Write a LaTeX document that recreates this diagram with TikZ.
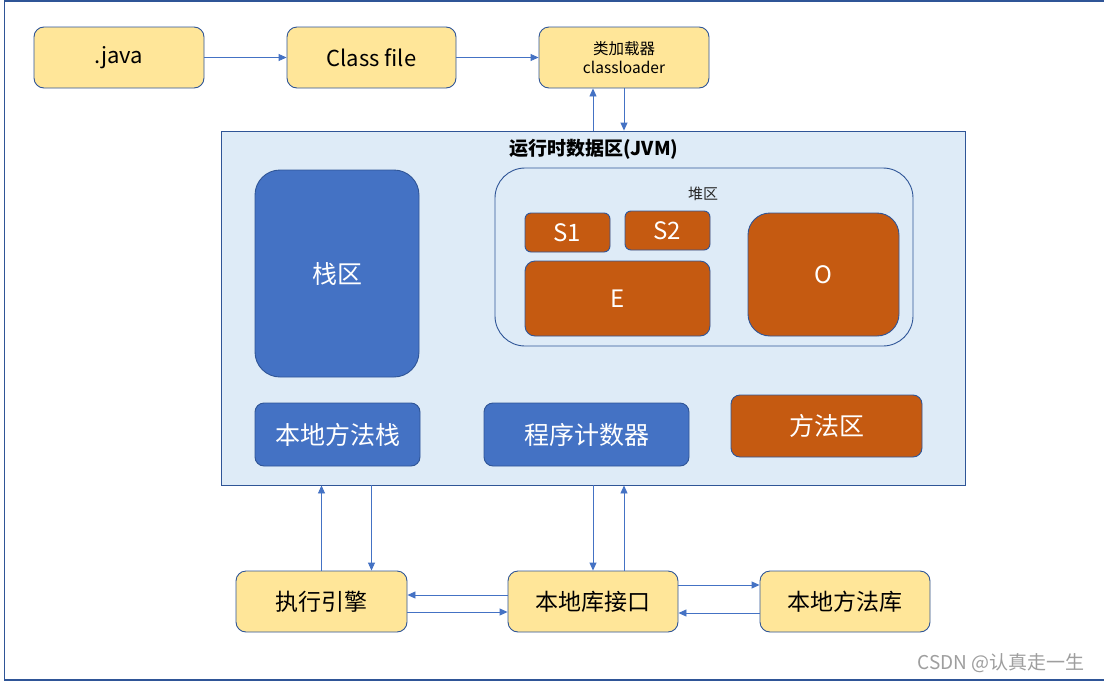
\documentclass[tikz,border=0pt]{standalone}
\usepackage{fontspec}
\setmainfont{Noto Sans CJK SC}
\usetikzlibrary{arrows.meta,positioning}
\definecolor{yel}{HTML}{FFE699}
\definecolor{edge}{HTML}{2F5597}
\definecolor{blu}{HTML}{4472C4}
\definecolor{ora}{HTML}{C55A11}
\definecolor{jvmbg}{HTML}{DEEBF7}
\definecolor{arrc}{HTML}{4472C4}
\newcommand{\fs}[1]{\fontsize{#1}{#1}\selectfont}
\tikzset{
  box/.style={draw=edge, line width=0.9pt, inner sep=0pt, align=center},
  ybox/.style={box, fill=yel, rounded corners=10pt, text=black, minimum width=170pt, minimum height=61pt, font=\fs{22}},
  bbox/.style={box, fill=blu, text=white, font=\fs{25}},
  obox/.style={box, fill=ora, text=white, font=\fs{24}},
  arr/.style={draw=arrc, line width=0.9pt, -{Triangle[length=8pt,width=7pt]}},
}
\begin{document}
\begin{tikzpicture}[x=1pt,y=-1pt]
\useasboundingbox (0,0) rectangle (1104,683);
\fill[white] (0,0) rectangle (1104,683);
% outer frame
\begin{scope}
\clip (0,0) rectangle (1104,683);
\draw[edge, line width=1.2pt] (4.5,1) rectangle (1110,680);
\end{scope}
% top row
\node[ybox] (java) at (119,57.5) {\raisebox{-2pt}{.java}};
\node[ybox, minimum width=169pt] (cls) at (371.5,57.5) {\raisebox{-1pt}{Class file}};
\node[ybox, font=\fs{15.5}] (cl) at (624,57.5) {类加载器\\[4pt]classloader};
% JVM area
\node[draw=edge, line width=0.9pt, fill=jvmbg, minimum width=744pt, minimum height=354pt, inner sep=0pt] (jvm) at (593,308) {};
\node[font=\fs{19}\bfseries, text=black] (jvmt) at (594,149) {运行时数据区(JVM)};
\node[bbox, rounded corners=25pt, minimum width=164pt, minimum height=207pt] (stack) at (337,273.5) {栈区};
% heap
\node[draw=edge, line width=0.9pt, fill=jvmbg, rounded corners=30pt, minimum width=418pt, minimum height=178pt, inner sep=0pt] (heap) at (704,257) {};
\node[font=\fs{15}, text=black!85] (heapt) at (703,193.5) {堆区};
\node[obox, rounded corners=6pt, minimum width=85pt, minimum height=39pt] (s1) at (567.5,232.5) {S1};
\node[obox, rounded corners=6pt, minimum width=85pt, minimum height=39pt] (s2) at (667.5,230.5) {S2};
\node[obox, rounded corners=10pt, minimum width=185pt, minimum height=75pt] (e) at (617.5,298.5) {E};
\node[obox, rounded corners=22pt, minimum width=151pt, minimum height=123pt] (o) at (823.5,274.5) {O};
% lower boxes
\node[bbox, rounded corners=9pt, minimum width=165pt, minimum height=63pt] (nms) at (337.5,434.5) {本地方法栈};
\node[bbox, rounded corners=9pt, minimum width=205pt, minimum height=63pt] (pc) at (586.5,434.5) {程序计数器};
\node[obox, font=\fs{25}, rounded corners=9pt, minimum width=191pt, minimum height=62pt] (ma) at (826.5,426) {方法区};
% bottom row
\node[ybox, minimum width=171pt, font=\fs{23}] (exec) at (321.5,601.5) {执行引擎};
\node[ybox, font=\fs{23}] (lib) at (593,601.5) {本地库接口};
\node[ybox, font=\fs{23}] (nlib) at (845,601.5) {本地方法库};
% watermark
\node[font=\fs{19}, text=black!38, anchor=east] (wm) at (1088,663) {CSDN @认真走一生};
% connectors
\draw[arr] (java) -- (cls);
\draw[arr] (cls) -- (cl);
\draw[arr] (jvm.north) -- (cl.south -| jvm.north);
\draw[arr] (cl.south) -- (cl.south |- jvm.north);
\draw[arr] (exec.north) -- (exec.north |- jvm.south);
\draw[arr] ([xshift=50pt]exec.north |- jvm.south) -- ([xshift=50pt]exec.north);
\draw[arr] (lib.north |- jvm.south) -- (lib.north);
\draw[arr] ([xshift=31pt]lib.north) -- ([xshift=31pt]lib.north |- jvm.south);
\draw[arr] ([yshift=6.5pt]lib.west) -- ([yshift=6.5pt]exec.east);
\draw[arr] ([yshift=-10.5pt]exec.east) -- ([yshift=-10.5pt]lib.west);
\draw[arr] ([yshift=16.5pt]lib.east) -- ([yshift=16.5pt]nlib.west);
\draw[arr] ([yshift=-11.5pt]nlib.west) -- ([yshift=-11.5pt]lib.east);
\end{tikzpicture}
\end{document}
